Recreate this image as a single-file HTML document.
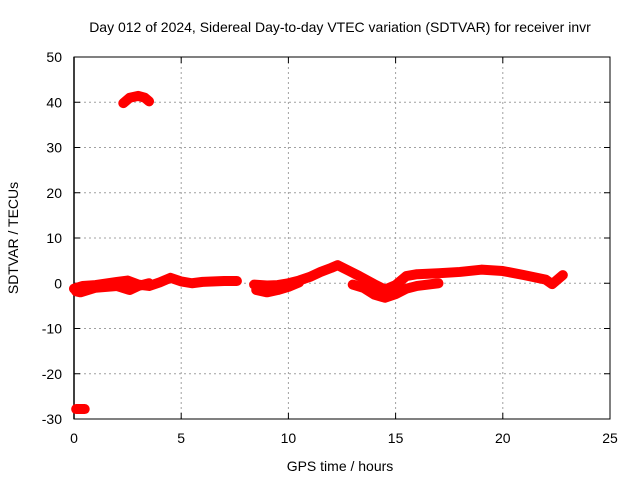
<!DOCTYPE html>
<html><head><meta charset="utf-8"><style>
body{margin:0;background:#fff;width:640px;height:480px;overflow:hidden}
svg text{font-family:"Liberation Sans",sans-serif;font-size:14px;fill:#000}
</style></head><body>
<svg id="c" width="640" height="480"></svg>
<script>
const xTicks=[0,5,10,15,20,25];
const yTicks=[-30,-20,-10,0,10,20,30,40,50];
const mainT=[0,0.4,1,2,2.5,3,3.5,4,4.5,5,5.5,6,7,7.6];
const mainV=[-1.2,-0.6,-0.4,0.3,0.6,-0.3,-0.6,0.2,1.2,0.4,0,0.3,0.5,0.5];
const lowT=[0.1,0.3,1,2,2.6,3,3.5];
const lowV=[-1.8,-2,-1,-0.6,-1.5,-0.6,0];
const mid1T=[8.4,9,9.5,10,10.5,11,11.5,12,12.3,12.8,13.3,14,14.5,15,15.5,16,17,18,19,20,21,22,22.3,22.8];
const mid1V=[-0.3,-0.5,-0.4,0,0.6,1.4,2.5,3.4,4,2.8,1.6,-0.2,-1.4,-0.4,1.6,2,2.2,2.5,3,2.7,1.8,0.8,-0.2,1.8];
const mid2T=[8.5,9,9.5,10,10.5];
const mid2V=[-1.5,-2,-1.5,-0.8,0.2];
const mid3T=[13,13.5,14,14.5,15,15.5,16,17];
const mid3V=[-0.3,-1,-2.5,-3.2,-2.4,-1.2,-0.6,0];
const hiT=[2.3,2.6,3,3.3,3.5];
const hiV=[39.8,41,41.4,41,40.2];
const negT=[0.1,0.5];
const negV=[-27.8,-27.8];
const NS="http://www.w3.org/2000/svg";
const svg=document.getElementById('c');
const L=74,R=610,T=57,B=419;
const xs=v=>L+(v-0)/25*(R-L);
const ys=v=>B-(v+30)/80*(B-T);
function mk(tag,attrs,parent){const e=document.createElementNS(NS,tag);for(const k in attrs)e.setAttribute(k,attrs[k]);(parent||svg).appendChild(e);return e;}
const grid=mk('g',{});


xTicks.forEach(t=>{
 if(t>0&&t<25){const l=mk('line',{x1:xs(t),x2:xs(t),y1:T,y2:B,stroke:'#a0a0a0','stroke-dasharray':'2,3'},grid);}
 const tx=mk('text',{x:xs(t),y:B+24,'text-anchor':'middle'});tx.textContent=t;
 
 
 mk('line',{x1:xs(t),x2:xs(t),y1:B,y2:B-6,stroke:'#000'});mk('line',{x1:xs(t),x2:xs(t),y1:T,y2:T+6,stroke:'#000'});
});
yTicks.forEach(v=>{
 if(v>-30&&v<50){const l=mk('line',{x1:L,x2:R,y1:ys(v),y2:ys(v),stroke:'#a0a0a0','stroke-dasharray':'2,3'},grid);}
 const tx=mk('text',{x:L-12,y:ys(v)+5,'text-anchor':'end'});tx.textContent=v;
 
 
 mk('line',{x1:L,x2:L+6,y1:ys(v),y2:ys(v),stroke:'#000'});mk('line',{x1:R,x2:R-6,y1:ys(v),y2:ys(v),stroke:'#000'});
});
const zl=mk('line',{x1:L,x2:L,y1:T,y2:B,stroke:'#000','stroke-width':1.5});


const fr=mk('rect',{x:L,y:T,width:R-L,height:B-T,fill:'none',stroke:'#000'});


function track(ts,vs,name){
 const p=mk('polyline',{points:ts.map((t,i)=>xs(t)+','+ys(vs[i])).join(' '),fill:'none',stroke:'#ff0000','stroke-width':10,'stroke-linejoin':'round','stroke-linecap':'round'});
 
 
}
track(mainT,mainV,'series-main-early');
track(lowT,lowV,'series-low-early');
track(mid1T,mid1V,'series-main-late');
track(mid2T,mid2V,'series-low-mid');
track(mid3T,mid3V,'series-low-late');
track(hiT,hiV,'series-high-arc');
track(negT,negV,'series-negative');
const title=mk('text',{x:340,y:32,'text-anchor':'middle'});title.textContent='Day 012 of 2024, Sidereal Day-to-day VTEC variation (SDTVAR) for receiver invr';


const xl=mk('text',{x:340,y:471,'text-anchor':'middle'});xl.textContent='GPS time / hours';


const yl=mk('text',{x:0,y:0,'text-anchor':'middle',transform:'translate(18,238) rotate(-90)'});yl.textContent='SDTVAR / TECUs';


</script>
</body></html>
